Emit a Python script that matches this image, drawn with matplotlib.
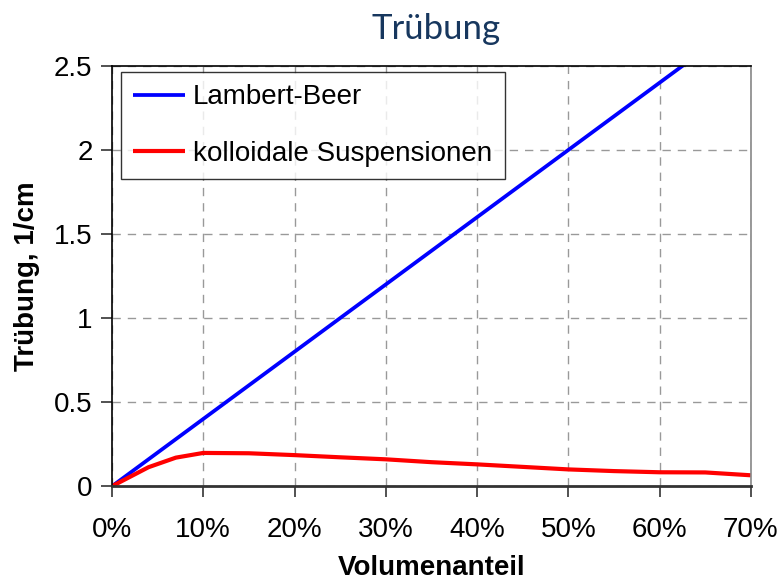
import numpy as np
import matplotlib.pyplot as plt
from matplotlib.ticker import FuncFormatter

# --- Daten ---
phi_lb = [0, 10, 20, 30, 40, 50, 60, 70]                # Volumenanteil [%]
tr_lb = [0, 0.4, 0.8, 1.2, 1.6, 2.0, 2.4, 2.8]          # Lambert-Beer [1/cm]

phi_ks = [0, 4, 7, 10, 15, 20, 25, 30, 35, 40, 45, 50, 55, 60, 65, 70]
tr_ks = [0, 0.113, 0.17, 0.198, 0.196, 0.185, 0.172, 0.16, 0.143, 0.13,
         0.115, 0.10, 0.09, 0.083, 0.082, 0.065]

x_ticks = [0, 10, 20, 30, 40, 50, 60, 70]
y_ticks = [0, 0.5, 1, 1.5, 2, 2.5]

plt.rcParams['font.family'] = ['Liberation Sans', 'DejaVu Sans']

fig = plt.figure(figsize=(7.83, 5.83), dpi=100)
ax = fig.add_axes([0.143, 0.166, 0.816, 0.721])

ax.plot(phi_lb, tr_lb, color='#0000ff', lw=2.7, label='Lambert-Beer', solid_capstyle='butt')
ax.plot(phi_ks, tr_ks, color='#ff0000', lw=3.0, label='kolloidale Suspensionen', solid_capstyle='butt')

ax.set_xlim(0, 70)
ax.set_ylim(0, 2.5)
ax.set_xticks(x_ticks)
ax.set_yticks(y_ticks)
ax.xaxis.set_major_formatter(FuncFormatter(lambda v, p: f'{v:.0f}%'))
ax.yaxis.set_major_formatter(FuncFormatter(lambda v, p: f'{v:g}'))
ax.tick_params(axis='both', direction='out', length=8, width=1.2, labelsize=20, colors='#333333', labelcolor='black')
ax.tick_params(axis='x', pad=14)
ax.tick_params(axis='y', pad=6)

ax.grid(True, color='#999999', linestyle=(0, (6, 5)), lw=1.0)
ax.set_axisbelow(True)

for s in ['left', 'top']:
    ax.spines[s].set_color('black')
    ax.spines[s].set_linewidth(1.2)
ax.spines['bottom'].set_color('#333333')
ax.spines['bottom'].set_linewidth(2)
ax.spines['right'].set_color('#888888')
ax.spines['right'].set_linewidth(1.2)

ax.set_xlabel('Volumenanteil', fontsize=20, fontweight='bold', labelpad=9)
ax.set_ylabel('Trübung, 1/cm', fontsize=20, fontweight='bold', labelpad=10)

fig.text(0.557, 0.95, 'Trübung', fontsize=25, color='#17375e', ha='center', va='center',
         family=['Lato', 'DejaVu Sans'])

leg = ax.legend(loc='upper left', bbox_to_anchor=(0.014, 0.986), fontsize=20, frameon=True,
                fancybox=False, edgecolor='black', handlelength=1.85, handletextpad=0.3,
                labelspacing=1.1, borderpad=0.45, borderaxespad=0.0)
leg.get_frame().set_linewidth(1.0)

fig.savefig('out.png', dpi=100)
